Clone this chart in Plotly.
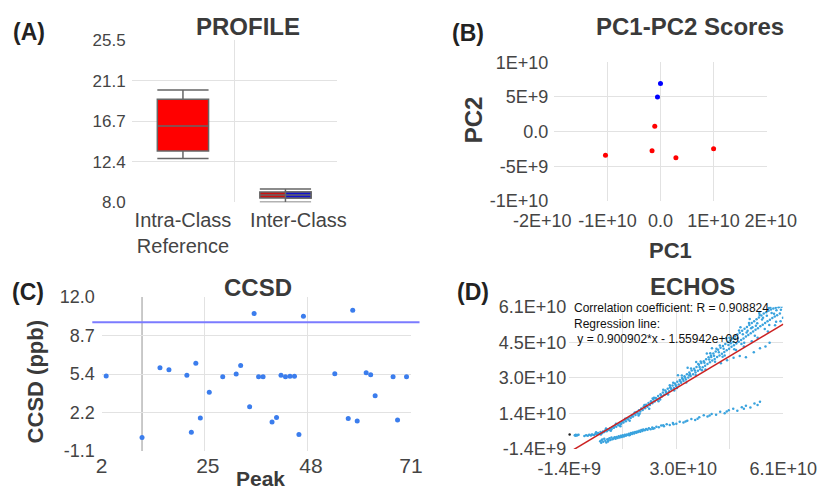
import plotly.graph_objects as go

W, H = 822, 491
FONT = "Liberation Sans, Arial, sans-serif"
TICK_COLOR = "#444444"
GRID = "#e2e2e2"

# ---------------- (A) PROFILE : box statistics ----------------
profile_labels = ["Intra-Class<br>Reference", "Inter-Class"]
intra_stats = dict(lowerfence=12.71, q1=13.54, median=16.23, q3=19.10, upperfence=20.10)
inter_red_stats = dict(lowerfence=8.00, q1=8.47, median=8.80, q3=9.12, upperfence=9.44)
inter_blue_stats = dict(lowerfence=8.47, q1=8.47, median=8.80, q3=9.12, upperfence=9.12)
profile_ticks = [8.0, 12.375, 16.75, 21.125, 25.5]
profile_ticktext = ["8.0", "12.4", "16.7", "21.1", "25.5"]

# ---------------- (B) PC1-PC2 scores ----------------
pc_red_x = [-1.036e10, -1.59e9, -1.08e9, 2.9e9, 1.0e10]
pc_red_y = [-3.39e9, -2.77e9, 0.77e9, -3.77e9, -2.48e9]
pc_blue_x = [0.0, -5.7e8]
pc_blue_y = [6.93e9, 5.01e9]
pc_xticks = [-2e10, -1e10, 0, 1e10, 2e10]
pc_xticktext = ["-2E+10", "-1E+10", "0.0", "1E+10", "2E+10"]
pc_yticks = [-1e10, -5e9, 0, 5e9, 1e10]
pc_yticktext = ["-1E+10", "-5E+9", "0.0", "5E+9", "1E+10"]

# ---------------- (C) CCSD ----------------
ccsd_peak = [3, 11, 15, 17, 21, 22, 23, 24, 26, 29, 32, 33, 35, 36, 37, 38, 40, 41,
             42, 43, 44, 45, 46, 47, 54, 57, 58, 59, 61, 62, 63, 67, 68, 70]
ccsd_value = [5.28, 0.05, 5.98, 5.81, 5.34, 0.49, 6.37, 1.71, 3.90, 5.22, 5.44, 6.18,
              2.66, 10.59, 5.22, 5.22, 1.37, 1.76, 5.34, 5.22, 5.25, 5.25, 0.30, 10.37,
              5.47, 1.67, 10.87, 1.45, 5.56, 5.39, 3.61, 5.22, 1.54, 5.22]
ccsd_threshold = 9.85
ccsd_selected_peak = 11
ccsd_xticks = [2, 25, 48, 71]
ccsd_xticktext = ["2", "25", "48", "71"]
ccsd_yticks = [-1.1, 2.175, 5.45, 8.725, 12.0]
ccsd_yticktext = ["-1.1", "2.2", "5.4", "8.7", "12.0"]

# ---------------- (D) ECHOS (values in units of 1e9) ----------------
echos_points = [
    # small cluster at far left
    (0.2, 4.6), (0.5, 4.8), (0.8, 4.5), (1.1, 4.7), (1.3, 4.9), (0.4, 4.4),
    # upper band
    (3.0, 4.3), (3.5, 4.6), (4.0, 4.4), (4.4, 4.9), (4.9, 4.5), (5.3, 5.0), (5.8, 4.7),
    (6.2, 5.3), (6.6, 5.0), (7.0, 5.6), (7.3, 5.2), (7.7, 6.0), (8.1, 5.5), (8.4, 6.3),
    (8.8, 6.0), (9.1, 6.8), (9.5, 6.4), (9.8, 7.2), (10.2, 6.9), (10.5, 7.7), (10.9, 7.3),
    (11.2, 8.3), (11.6, 7.9), (11.9, 8.8), (12.3, 8.4), (12.6, 9.4), (13.0, 9.0),
    (13.3, 10.0), (13.7, 9.6), (14.0, 10.6), (14.4, 10.2), (14.7, 11.3), (15.1, 10.8),
    (15.4, 12.0), (15.8, 11.5), (16.1, 12.6), (16.5, 12.2), (16.8, 13.3), (17.2, 12.8),
    (17.5, 14.1), (17.9, 13.5), (18.2, 14.8), (18.6, 14.2), (18.9, 15.6), (19.3, 15.0),
    (19.6, 16.4), (20.0, 15.7), (20.3, 17.2), (20.7, 16.5), (21.0, 18.0), (21.4, 17.1),
    (21.7, 18.8), (22.1, 17.9), (22.4, 19.5), (22.8, 18.7), (23.1, 20.3), (23.5, 19.4),
    (23.8, 21.0), (24.2, 20.2), (24.5, 21.8), (24.9, 20.9), (25.2, 22.6), (25.6, 21.6),
    (25.9, 23.4), (26.3, 22.4), (26.6, 24.2), (27.0, 23.1), (27.3, 25.0), (27.7, 23.9),
    (28.0, 25.7), (28.4, 24.7), (28.7, 26.5), (29.1, 25.4), (29.4, 27.3), (29.8, 26.1),
    (30.1, 28.1), (30.5, 26.9), (30.8, 28.9), (31.2, 27.7), (31.5, 29.7), (31.9, 28.4),
    (32.2, 30.5), (32.6, 29.1), (32.9, 31.4), (33.3, 29.9), (33.6, 32.2), (34.0, 30.6),
    (34.3, 33.0), (34.7, 31.4), (35.0, 33.8), (35.4, 32.1), (35.7, 34.6), (36.1, 32.9),
    (36.4, 35.5), (36.8, 33.6), (37.1, 36.3), (37.5, 34.4), (37.8, 37.1), (38.2, 35.1),
    (38.5, 38.0), (38.9, 35.9), (39.2, 38.8), (39.6, 36.6), (39.9, 39.6), (40.3, 37.4),
    (40.6, 40.5), (41.0, 38.1), (41.3, 41.3), (41.7, 38.9), (42.0, 42.1), (42.4, 39.6),
    (42.7, 43.0), (43.1, 40.4), (43.4, 43.8), (43.8, 41.1), (44.1, 44.6), (44.5, 41.9),
    (44.8, 45.5), (45.2, 42.6), (45.5, 46.3), (45.9, 43.4), (46.2, 47.1), (46.6, 44.1),
    (46.9, 48.0), (47.3, 44.9), (47.6, 48.8), (48.0, 45.6), (48.3, 49.6), (48.7, 46.4),
    (49.0, 50.5), (49.4, 47.1), (49.7, 51.3), (50.1, 47.9), (50.4, 52.1), (50.8, 48.6),
    (51.1, 53.0), (51.5, 49.4), (51.8, 53.8), (52.2, 50.1), (52.5, 54.6), (52.9, 50.9),
    (53.2, 55.5), (53.6, 51.6), (53.9, 56.3), (54.3, 52.4), (54.6, 57.1), (55.0, 53.1),
    (55.3, 58.0), (55.7, 53.9), (56.0, 58.6), (56.4, 54.6), (56.7, 59.2), (57.1, 55.3),
    (57.4, 59.8), (57.8, 56.0), (58.1, 60.2), (58.5, 56.7), (58.8, 60.5), (59.2, 57.3),
    (59.6, 60.8), (60.0, 58.0), (60.5, 61.0), (60.9, 56.2),
    # band core
    (5.1, 4.8), (6.9, 5.3), (8.6, 6.1), (10.0, 7.0), (11.4, 8.0), (12.8, 9.3), (14.2, 10.3),
    (15.6, 11.8), (17.0, 13.0), (18.4, 14.5), (19.8, 16.0), (21.2, 17.5), (22.6, 19.1),
    (24.0, 20.6), (25.4, 22.1), (26.8, 23.6), (28.2, 25.2), (29.6, 26.7), (31.0, 28.3),
    (32.4, 29.8), (33.8, 31.5), (35.2, 33.0), (36.6, 34.6), (38.0, 36.4), (39.4, 37.8),
    (40.8, 39.5), (42.2, 41.0), (43.6, 42.6), (45.0, 44.2), (46.4, 45.5), (47.8, 47.3),
    (49.2, 48.9), (50.6, 50.5), (52.0, 52.0), (53.4, 53.7), (54.8, 55.4), (56.2, 57.0),
    (57.6, 58.2), (59.0, 59.4),
    # extra irregular points inside the band
    (6.4, 5.9), (7.8, 5.0), (9.3, 7.6), (10.7, 6.6), (12.2, 9.7), (13.5, 8.6), (14.9, 11.9),
    (16.2, 11.0), (17.7, 14.6), (18.8, 13.3), (20.5, 17.9), (21.9, 16.2), (23.3, 21.1),
    (24.6, 19.5), (26.0, 24.6), (27.4, 22.5), (28.9, 27.6), (30.0, 25.3), (31.4, 30.8),
    (32.7, 27.8), (34.1, 33.9), (35.5, 30.9), (36.9, 37.0), (38.3, 33.5), (39.7, 40.6),
    (41.1, 36.9), (42.5, 44.0), (43.9, 39.6), (45.3, 47.4), (46.7, 42.3), (48.1, 50.6),
    (49.6, 45.2), (51.0, 53.9), (52.7, 48.3), (54.1, 57.4), (55.6, 51.2), (57.2, 60.6),
    (58.9, 54.4), (60.3, 59.7), (19.1, 14.1), (22.9, 20.7), (25.1, 20.3), (27.9, 26.6),
    (29.2, 24.2), (31.7, 29.2), (33.6, 30.9), (36.2, 35.9), (37.3, 33.1), (40.0, 38.9),
    (41.5, 42.6), (43.3, 39.0), (45.7, 45.0), (47.0, 46.8), (48.8, 44.6), (50.3, 49.7),
    (51.6, 51.5), (53.0, 52.6), (55.1, 56.2), (56.9, 53.0), (58.3, 57.9), (59.8, 61.0),
    # scattered below the band
    (42.8, 36.2), (44.6, 37.5), (46.5, 38.6), (48.3, 39.4), (50.1, 38.8), (52.4, 41.0),
    (54.2, 42.8), (55.8, 43.5), (57.0, 45.2), (47.2, 42.0), (49.5, 43.6), (51.8, 45.9),
    (53.5, 47.4), (56.5, 50.1), (58.6, 52.9), (60.2, 54.6),
    # scattered above the band
    (40.2, 42.8), (44.3, 47.2), (48.5, 52.0), (51.2, 55.6), (54.0, 58.2), (56.8, 60.4),
    (38.7, 40.5), (35.6, 36.8), (33.1, 34.2), (30.3, 30.9),
    # lower band
    (7.6, 2.0), (7.9, 1.3), (8.2, 2.8), (8.5, 1.8), (8.8, 3.1), (9.1, 2.2), (9.4, 1.5),
    (9.7, 2.9), (10.0, 2.4), (10.3, 3.3), (10.6, 2.6), (10.9, 3.6), (11.2, 2.9), (11.5, 3.2),
    (11.8, 3.8), (12.1, 3.1), (12.4, 3.9), (12.7, 3.4), (13.0, 4.2), (13.3, 3.6), (13.6, 4.4),
    (13.9, 3.9), (14.2, 4.6), (14.5, 4.1), (14.8, 4.8), (15.1, 4.4), (15.4, 5.0), (15.7, 4.7),
    (16.0, 5.3), (16.3, 4.9), (16.6, 5.6), (16.9, 5.2), (17.2, 5.8), (17.5, 5.4), (17.8, 6.1),
    (18.1, 5.7), (18.4, 6.3), (18.7, 6.0), (19.0, 6.6), (19.3, 6.2), (19.6, 6.9), (19.9, 6.5),
    (20.2, 7.1), (20.6, 6.8), (21.0, 7.4), (21.4, 7.0), (21.8, 7.7), (22.3, 7.3), (22.8, 8.0),
    (23.4, 7.7), (24.0, 8.4), (24.7, 8.1), (25.4, 8.9), (26.2, 8.6), (27.0, 9.4), (27.9, 9.1),
    (28.8, 10.0), (29.8, 9.7), (30.8, 10.5), (31.9, 10.2), (33.0, 11.0), (34.2, 11.8),
    (35.3, 11.3), (36.5, 12.5), (37.8, 13.4), (38.9, 12.8), (40.1, 14.0), (41.4, 13.6),
    (42.6, 14.9), (43.9, 14.3), (45.1, 15.6), (46.4, 16.2), (47.6, 15.4), (48.9, 16.9),
    (50.1, 17.6), (51.4, 16.8), (52.6, 18.5), (53.5, 17.9), (54.2, 19.3),
    (8.0, 2.4), (9.9, 1.9), (12.0, 3.5), (14.0, 4.3), (16.1, 4.6), (18.3, 5.9), (20.0, 6.9),
    (23.0, 7.5), (26.0, 9.0), (29.0, 9.4), (32.5, 10.7), (36.0, 11.9), (39.5, 13.3),
    (44.5, 15.0), (49.5, 16.3),
]
echos_dark_point = (-1.3, 5.0)
echos_r = 0.908824
echos_slope = 0.900902
echos_intercept = -1.55942e9
echos_range = [-1.4e9, 6.1e10]
echos_xticks = [-1.4e9, 1.42e10, 2.98e10, 4.54e10, 6.1e10]
echos_xticktext = ["-1.4E+9", "", "3.0E+10", "", "6.1E+10"]
echos_yticks = [-1.4e9, 1.42e10, 2.98e10, 4.54e10, 6.1e10]
echos_yticktext = ["-1.4E+9", "1.4E+10", "3.0E+10", "4.5E+10", "6.1E+10"]

echos_x = [p[0] * 1e9 for p in echos_points]
echos_y = [p[1] * 1e9 for p in echos_points]


def PX(x):
    return x / W


def PY(y):
    return 1 - y / H


fig = go.Figure()

# ---- A ----
box_line = dict(color="#666666", width=1.5)
fig.add_trace(go.Box(x=[0], width=0.5, fillcolor="#ff0000", line=box_line, whiskerwidth=1,
                     q1=[intra_stats["q1"]], median=[intra_stats["median"]], q3=[intra_stats["q3"]],
                     lowerfence=[intra_stats["lowerfence"]], upperfence=[intra_stats["upperfence"]],
                     xaxis="x", yaxis="y", showlegend=False, boxpoints=False))
fig.add_trace(go.Box(x=[1], width=0.5, fillcolor="#cc1111", line=box_line, whiskerwidth=1,
                     q1=[inter_red_stats["q1"]], median=[inter_red_stats["median"]], q3=[inter_red_stats["q3"]],
                     lowerfence=[inter_red_stats["lowerfence"]], upperfence=[inter_red_stats["upperfence"]],
                     xaxis="x", yaxis="y", showlegend=False, boxpoints=False))
fig.add_trace(go.Box(x=[1.125], width=0.25, fillcolor="#1111cc", line=box_line, whiskerwidth=1,
                     q1=[inter_blue_stats["q1"]], median=[inter_blue_stats["median"]], q3=[inter_blue_stats["q3"]],
                     lowerfence=[inter_blue_stats["lowerfence"]], upperfence=[inter_blue_stats["upperfence"]],
                     xaxis="x", yaxis="y", showlegend=False, boxpoints=False))

# ---- B ----
fig.add_trace(go.Scatter(x=pc_red_x, y=pc_red_y, mode="markers", xaxis="x2", yaxis="y2",
                         marker=dict(color="#ff0000", size=5), showlegend=False))
fig.add_trace(go.Scatter(x=pc_blue_x, y=pc_blue_y, mode="markers", xaxis="x2", yaxis="y2",
                         marker=dict(color="#0000ff", size=5), showlegend=False))

# ---- C ----
fig.add_trace(go.Scatter(x=ccsd_peak, y=ccsd_value, mode="markers", xaxis="x3", yaxis="y3",
                         marker=dict(color="#3b7ded", size=5), showlegend=False))

# ---- D ----
fig.add_trace(go.Scatter(x=echos_x, y=echos_y, mode="markers", xaxis="x4", yaxis="y4",
                         marker=dict(color="#3aa3de", size=2.5), showlegend=False))
fig.add_trace(go.Scatter(x=[echos_dark_point[0] * 1e9], y=[echos_dark_point[1] * 1e9], mode="markers",
                         xaxis="x4", yaxis="y4", marker=dict(color="#222222", size=2.5), showlegend=False,
                         cliponaxis=False))
reg_x = list(echos_range)
reg_y = [echos_slope * v + echos_intercept for v in reg_x]
fig.add_trace(go.Scatter(x=reg_x, y=reg_y, mode="lines", xaxis="x4", yaxis="y4",
                         line=dict(color="#cc2222", width=1.5), showlegend=False))


def tickfont(s):
    return dict(family=FONT, size=s, color=TICK_COLOR)


def axis(**kw):
    d = dict(showline=False, zeroline=False, ticks="", showgrid=True, gridcolor=GRID, gridwidth=1,
             fixedrange=True, automargin=False, tickangle=0)
    d.update(kw)
    return d


def label_axis(over, anchor, rng, vals, texts, size, standoff, shift):
    """Extra x axis drawn over a panel that only carries some (nudged) tick labels."""
    return dict(overlaying=over, anchor=anchor, range=rng, tickvals=vals, ticktext=texts,
                showgrid=False, zeroline=False, showline=False, ticks="", fixedrange=True,
                automargin=False, tickangle=0, tickfont=tickfont(size),
                ticklabelstandoff=standoff, ticklabelshift=int(shift), side="bottom")


fig.update_layout(
    template="none",
    width=W, height=H, autosize=False,
    margin=dict(l=0, r=0, t=0, b=0, pad=0),
    paper_bgcolor="white", plot_bgcolor="white",
    boxmode="overlay", showlegend=False,
    font=dict(family=FONT),
    # A
    xaxis=axis(domain=[PX(131.7), PX(336.7)], range=[-0.5, 1.5], tickvals=[0], ticktext=profile_labels[:1],
               showgrid=False, minor=dict(tickvals=[-0.5, 0.5, 1.5], showgrid=True, gridcolor=GRID, gridwidth=1),
               tickfont=tickfont(20), ticklabelstandoff=4, anchor="y"),
    xaxis6=label_axis("x", "y", [-0.5, 1.5], [1], profile_labels[1:], 20, 4, 13),
    yaxis=axis(domain=[PY(202.3), PY(40)], range=[8.0, 25.5], tickvals=profile_ticks, ticktext=profile_ticktext,
               tickfont=tickfont(17), ticklabelstandoff=5, anchor="x"),
    # B
    xaxis2=axis(domain=[PX(554.3), PX(766.7)], range=[-2e10, 2e10], tickvals=pc_xticks[1:4],
                ticktext=pc_xticktext[1:4], tickfont=tickfont(18), ticklabelstandoff=7, anchor="y2",
                minor=dict(tickvals=[pc_xticks[0], pc_xticks[4]], showgrid=True, gridcolor=GRID, gridwidth=1)),
    xaxis7=label_axis("x2", "y2", [-2e10, 2e10], [pc_xticks[0]], [pc_xticktext[0]], 18, 7, -12),
    xaxis8=label_axis("x2", "y2", [-2e10, 2e10], [pc_xticks[4]], [pc_xticktext[4]], 18, 7, 4),
    yaxis2=axis(domain=[PY(201), PY(62.3)], range=[-1e10, 1e10], tickvals=pc_yticks, ticktext=pc_yticktext,
                tickfont=tickfont(18), ticklabelstandoff=5, anchor="x2"),
    # C
    xaxis3=axis(domain=[PX(101.7), PX(411)], range=[2, 71], tickvals=[ccsd_xticks[0], ccsd_xticks[3]],
                ticktext=[ccsd_xticktext[0], ccsd_xticktext[3]],
                showgrid=False, minor=dict(tickvals=[25, 48, 71], showgrid=True, gridcolor=GRID, gridwidth=1),
                tickfont=tickfont(21), ticklabelstandoff=0, anchor="y3"),
    xaxis9=label_axis("x3", "y3", [2, 71], ccsd_xticks[1:3], ccsd_xticktext[1:3], 21, 0, 3),
    yaxis3=axis(domain=[PY(451), PY(297)], range=[-1.1, 12.0], tickvals=ccsd_yticks, ticktext=ccsd_yticktext,
                tickfont=tickfont(18), ticklabelstandoff=6, anchor="x3"),
    # D
    xaxis4=axis(domain=[PX(569.3), PX(783.3)], range=echos_range, tickvals=echos_xticks,
                ticktext=[t if not t.startswith("3.0") else "" for t in echos_xticktext],
                tickfont=tickfont(18), ticklabelstandoff=7, anchor="y4"),
    xaxis10=label_axis("x4", "y4", echos_range, [echos_xticks[2]], [echos_xticktext[2]], 18, 7, 7),
    yaxis4=axis(domain=[PY(449), PY(306.7)], range=echos_range, tickvals=echos_yticks, ticktext=echos_yticktext,
                tickfont=tickfont(18), ticklabelstandoff=2, anchor="x4"),
)

# empty traces so that the label-only axes are drawn
for xa, ya in [("x6", "y"), ("x7", "y2"), ("x8", "y2"), ("x9", "y3"), ("x10", "y4")]:
    fig.add_trace(go.Scatter(x=[None], y=[None], xaxis=xa, yaxis=ya, mode="markers",
                             showlegend=False, hoverinfo="skip"))

# reference lines in C
fig.add_shape(type="line", xref="paper", yref="y3", x0=PX(92.3), x1=PX(419.5),
              y0=ccsd_threshold, y1=ccsd_threshold, line=dict(color="#7b7bff", width=2))
fig.add_shape(type="line", xref="x3", yref="y3 domain", x0=ccsd_selected_peak, x1=ccsd_selected_peak,
              y0=0, y1=1, line=dict(color="#b8b8b8", width=1.5), layer="below")

TITLE_C = "#3a3a3a"


def ann(text, x, y, size, color=TITLE_C, bold=True, angle=0, xanchor="center", yanchor="middle",
        align="center"):
    fig.add_annotation(text=f"<b>{text}</b>" if bold else text, x=PX(x), y=PY(y), xref="paper", yref="paper",
                       showarrow=False, xanchor=xanchor, yanchor=yanchor, textangle=angle, align=align,
                       font=dict(family=FONT, size=size, color=color), borderpad=0)


# panel labels
ann("(A)", 29, 32, 23, color="#222222")
ann("(B)", 468, 33, 23, color="#222222")
ann("(C)", 28, 292, 23, color="#222222")
ann("(D)", 473, 292, 23, color="#222222")
# titles
ann("PROFILE", 248, 27, 24)
ann("PC1-PC2 Scores", 690, 27, 24)
ann("CCSD", 258, 287, 24)
ann("ECHOS", 692.5, 286, 24)
# axis titles
ann("PC2", 473.3, 120, 24, angle=-90)
ann("PC1", 670, 250, 22)
ann("CCSD (ppb)", 35.7, 381.7, 22, angle=-90)
ann("Peak", 260, 491, 21, yanchor="bottom")
# regression text (one block)
reg_text = (f"Correlation coefficient: R = {echos_r}<br>Regression line:<br>"
            f"\u00a0y = {echos_slope}*x - {abs(echos_intercept):.5e}")
ann(reg_text, 572.7, 323.5, 12, color="#111111", bold=False, xanchor="left", align="left")

fig.write_html("out.html")
